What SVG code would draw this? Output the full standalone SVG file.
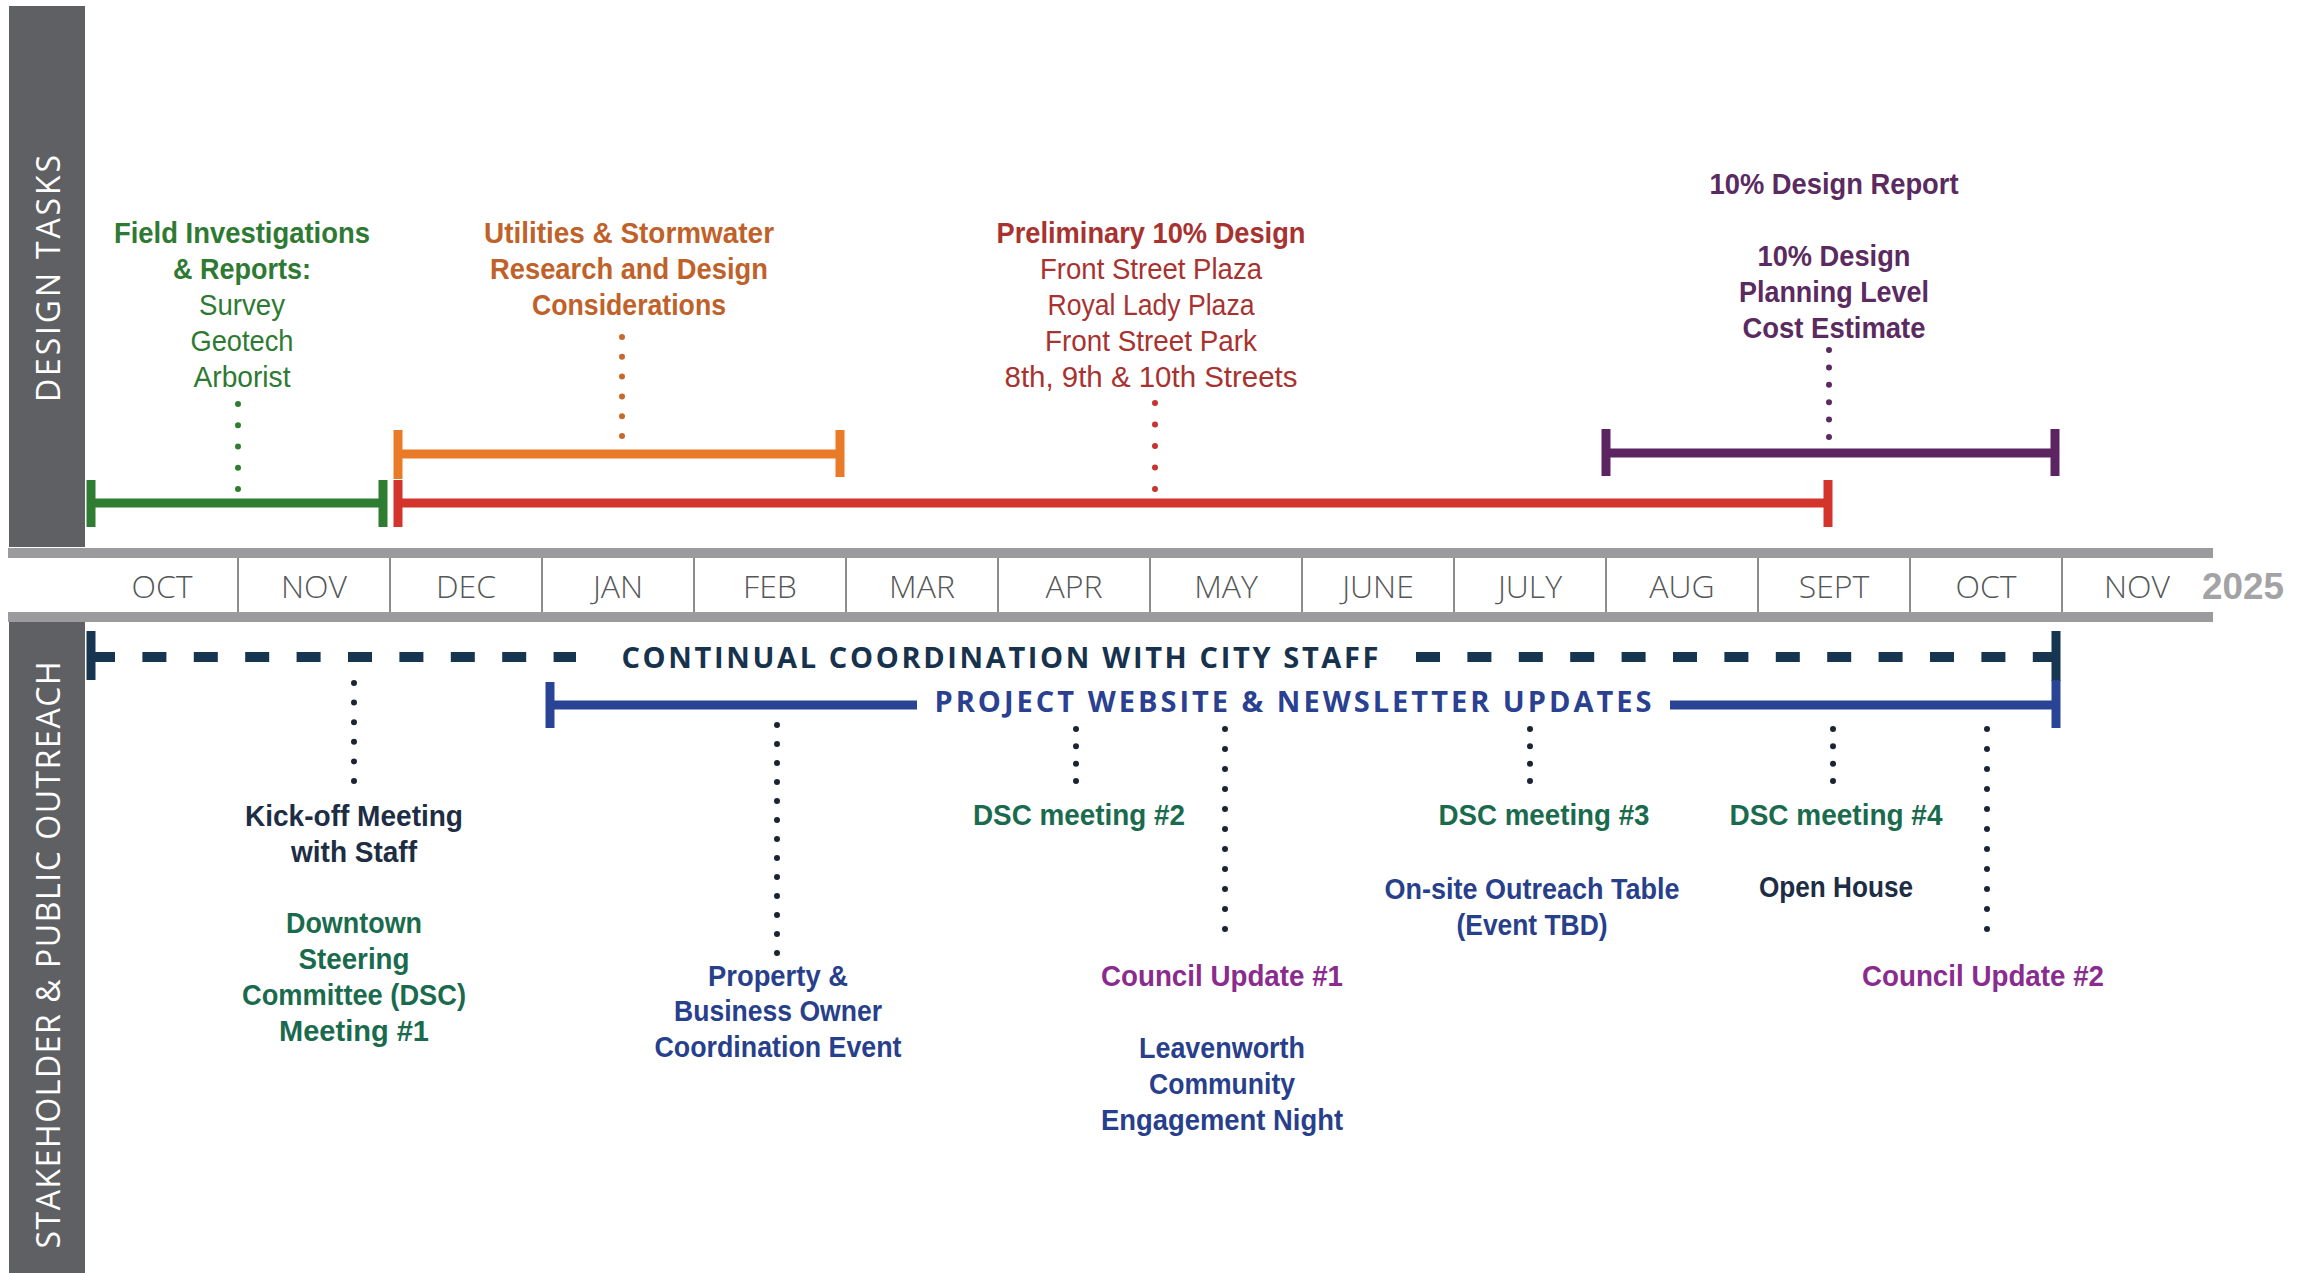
<svg xmlns="http://www.w3.org/2000/svg" width="2315" height="1273" viewBox="0 0 2315 1273">
<style>
.bg{fill:#ffffff}
.side{fill:#5f6063}
.axis{fill:#9b9b9d}
.div{stroke:#8c8c8c;stroke-width:2}
.mon{font-family:"Open Sans","Liberation Sans",sans-serif;font-weight:300;font-size:32px;fill:#555759;text-anchor:middle}
.yr{font-family:"Liberation Sans",Arial,sans-serif;font-weight:700;font-size:36px;fill:#a3a3a5;text-anchor:middle}
.sec{font-family:"Open Sans","Liberation Sans",sans-serif;font-weight:400;font-size:32px;fill:#ffffff;text-anchor:middle}
.b{font-family:"Liberation Sans Narrow","Liberation Sans",Arial,sans-serif;font-weight:700;font-size:29px;text-anchor:middle}
.r{font-family:"Liberation Sans Narrow","Liberation Sans",Arial,sans-serif;font-weight:400;font-size:29px;text-anchor:middle}
.wide{font-family:"Open Sans","Liberation Sans",sans-serif;font-weight:700;font-size:29px;text-anchor:middle}
.bar{stroke-width:9;fill:none}
.dot{stroke-width:6;stroke-linecap:round;fill:none}
.green{fill:#2e7a33}.greenS{stroke:#2e7d32}
.orange{fill:#bf6129}.orangeS{stroke:#e97b28}
.red{fill:#a8322f}.redS{stroke:#d3352c}
.purple{fill:#5a2a60}.purpleS{stroke:#5d2462}
.teal{fill:#1a6b4e}
.navy{fill:#1c2d44}
.blue{fill:#283f8c}
.mag{fill:#8a2c8e}
.dk{stroke:#1b2433}
</style>
<rect class="bg" x="0" y="0" width="2315" height="1273"/>

<g id="sidebars">
<rect class="side" x="9" y="6" width="76" height="541"/>
<rect class="side" x="9" y="622" width="76" height="651"/>
<text class="sec" transform="translate(60,278.5) rotate(-90)" x="0" y="0" textLength="247" lengthAdjust="spacing">DESIGN TASKS</text>
<text class="sec" transform="translate(60,955) rotate(-90)" x="0" y="0" textLength="587" lengthAdjust="spacing">STAKEHOLDER &amp; PUBLIC OUTREACH</text>
</g>

<g id="timeline-axis">
<rect class="axis" x="8" y="548" width="2205" height="10"/>
<rect class="axis" x="8" y="612" width="2205" height="10"/>
<line class="div" x1="238" y1="558" x2="238" y2="612"/>
<line class="div" x1="390" y1="558" x2="390" y2="612"/>
<line class="div" x1="542" y1="558" x2="542" y2="612"/>
<line class="div" x1="694" y1="558" x2="694" y2="612"/>
<line class="div" x1="846" y1="558" x2="846" y2="612"/>
<line class="div" x1="998" y1="558" x2="998" y2="612"/>
<line class="div" x1="1150" y1="558" x2="1150" y2="612"/>
<line class="div" x1="1302" y1="558" x2="1302" y2="612"/>
<line class="div" x1="1454" y1="558" x2="1454" y2="612"/>
<line class="div" x1="1606" y1="558" x2="1606" y2="612"/>
<line class="div" x1="1758" y1="558" x2="1758" y2="612"/>
<line class="div" x1="1910" y1="558" x2="1910" y2="612"/>
<line class="div" x1="2062" y1="558" x2="2062" y2="612"/>
<text class="mon" x="162" y="598">OCT</text>
<text class="mon" x="314" y="598">NOV</text>
<text class="mon" x="466" y="598">DEC</text>
<text class="mon" x="618" y="598">JAN</text>
<text class="mon" x="770" y="598">FEB</text>
<text class="mon" x="922" y="598">MAR</text>
<text class="mon" x="1074" y="598">APR</text>
<text class="mon" x="1226" y="598">MAY</text>
<text class="mon" x="1378" y="598">JUNE</text>
<text class="mon" x="1530" y="598">JULY</text>
<text class="mon" x="1682" y="598">AUG</text>
<text class="mon" x="1834" y="598">SEPT</text>
<text class="mon" x="1986" y="598">OCT</text>
<text class="mon" x="2137" y="598">NOV</text>
<text class="yr" x="2243" y="599" textLength="82" lengthAdjust="spacingAndGlyphs">2025</text>
</g>

<g id="connectors">
<line class="bar greenS" x1="91" y1="503" x2="383" y2="503"/>
<line class="bar greenS" x1="91" y1="480" x2="91" y2="527"/>
<line class="bar greenS" x1="383" y1="480" x2="383" y2="527"/>
<line class="bar redS" x1="398" y1="503" x2="1828" y2="503"/>
<line class="bar redS" x1="398" y1="480" x2="398" y2="527"/>
<line class="bar redS" x1="1828" y1="480" x2="1828" y2="527"/>
<line class="bar orangeS" x1="398" y1="454" x2="840" y2="454"/>
<line class="bar orangeS" x1="398" y1="430" x2="398" y2="479"/>
<line class="bar orangeS" x1="840" y1="430" x2="840" y2="477"/>
<line class="bar purpleS" x1="1606" y1="453" x2="2055" y2="453"/>
<line class="bar purpleS" x1="1606" y1="429" x2="1606" y2="476"/>
<line class="bar purpleS" x1="2055" y1="429" x2="2055" y2="476"/>
<line class="dot" stroke="#2e7d32" x1="238" y1="404" x2="238" y2="489.1" stroke-dasharray="0 21.25"/>
<line class="dot" stroke="#c8692c" x1="622" y1="337" x2="622" y2="436.1" stroke-dasharray="0 19.8"/>
<line class="dot" stroke="#c7332e" x1="1155" y1="403" x2="1155" y2="489.1" stroke-dasharray="0 21.5"/>
<line class="dot" stroke="#5a2a60" x1="1829" y1="350" x2="1829" y2="437.1" stroke-dasharray="0 17.4"/>
<line stroke="#163551" stroke-width="9" x1="91" y1="631" x2="91" y2="680"/>
<line stroke="#163551" stroke-width="10" x1="91" y1="657" x2="576" y2="657" stroke-dasharray="24 27.4"/>
<line stroke="#163551" stroke-width="10" x1="1416" y1="657" x2="2056" y2="657" stroke-dasharray="24 27.4"/>
<line stroke="#163551" stroke-width="9" x1="2056" y1="631" x2="2056" y2="681"/>
<line stroke="#2a4495" stroke-width="9" x1="550" y1="682" x2="550" y2="728"/>
<line stroke="#2a4495" stroke-width="9" x1="550" y1="705" x2="917" y2="705"/>
<line stroke="#2a4495" stroke-width="9" x1="1670" y1="705" x2="2056" y2="705"/>
<line stroke="#2a4495" stroke-width="9" x1="2056" y1="680" x2="2056" y2="728"/>
<line class="dot dk" x1="354" y1="683" x2="354" y2="781.1" stroke-dasharray="0 19.6"/>
<line class="dot dk" x1="777" y1="725" x2="777" y2="953.1" stroke-dasharray="0 19"/>
<line class="dot dk" x1="1076" y1="729" x2="1076" y2="781.1" stroke-dasharray="0 17.33"/>
<line class="dot dk" x1="1225" y1="729" x2="1225" y2="929.1" stroke-dasharray="0 20"/>
<line class="dot dk" x1="1530" y1="729" x2="1530" y2="781.1" stroke-dasharray="0 17.33"/>
<line class="dot dk" x1="1833" y1="729" x2="1833" y2="781.1" stroke-dasharray="0 17.33"/>
<line class="dot dk" x1="1987" y1="729" x2="1987" y2="929.1" stroke-dasharray="0 20"/>
</g>

<g id="continual-coordination">
<text class="wide" x="1000" y="668" fill="#17324d" textLength="757" lengthAdjust="spacing">CONTINUAL COORDINATION WITH CITY STAFF</text>
</g>
<g id="website-updates">
<text class="wide" x="1293" y="712" fill="#2a4090" textLength="717" lengthAdjust="spacing">PROJECT WEBSITE &amp; NEWSLETTER UPDATES</text>
</g>

<g id="field-investigations">
<text class="b green" x="242" y="243" textLength="256" lengthAdjust="spacingAndGlyphs">Field Investigations</text>
<text class="b green" x="242" y="279" textLength="138" lengthAdjust="spacingAndGlyphs">&amp; Reports:</text>
<text class="r green" x="242" y="315" textLength="86" lengthAdjust="spacingAndGlyphs">Survey</text>
<text class="r green" x="242" y="351" textLength="103" lengthAdjust="spacingAndGlyphs">Geotech</text>
<text class="r green" x="242" y="387" textLength="97" lengthAdjust="spacingAndGlyphs">Arborist</text>
</g>

<g id="utilities-stormwater">
<text class="b orange" x="629" y="243" textLength="290" lengthAdjust="spacingAndGlyphs">Utilities &amp; Stormwater</text>
<text class="b orange" x="629" y="279" textLength="278" lengthAdjust="spacingAndGlyphs">Research and Design</text>
<text class="b orange" x="629" y="315" textLength="194" lengthAdjust="spacingAndGlyphs">Considerations</text>
</g>

<g id="preliminary-design">
<text class="b red" x="1151" y="243" textLength="309" lengthAdjust="spacingAndGlyphs">Preliminary 10% Design</text>
<text class="r red" x="1151" y="279" textLength="222" lengthAdjust="spacingAndGlyphs">Front Street Plaza</text>
<text class="r red" x="1151" y="315" textLength="207" lengthAdjust="spacingAndGlyphs">Royal Lady Plaza</text>
<text class="r red" x="1151" y="351" textLength="212" lengthAdjust="spacingAndGlyphs">Front Street Park</text>
<text class="r red" x="1151" y="387" textLength="293" lengthAdjust="spacingAndGlyphs">8th, 9th &amp; 10th Streets</text>
</g>

<g id="design-report">
<text class="b purple" x="1834" y="194" textLength="249" lengthAdjust="spacingAndGlyphs">10% Design Report</text>
<text class="b purple" x="1834" y="266" textLength="153" lengthAdjust="spacingAndGlyphs">10% Design</text>
<text class="b purple" x="1834" y="302" textLength="190" lengthAdjust="spacingAndGlyphs">Planning Level</text>
<text class="b purple" x="1834" y="338" textLength="183" lengthAdjust="spacingAndGlyphs">Cost Estimate</text>
</g>

<g id="kickoff">
<text class="b navy" x="354" y="826" textLength="218" lengthAdjust="spacingAndGlyphs">Kick-off Meeting</text>
<text class="b navy" x="354" y="862" textLength="126" lengthAdjust="spacingAndGlyphs">with Staff</text>
<text class="b teal" x="354" y="933" textLength="136" lengthAdjust="spacingAndGlyphs">Downtown</text>
<text class="b teal" x="354" y="969" textLength="111" lengthAdjust="spacingAndGlyphs">Steering</text>
<text class="b teal" x="354" y="1005" textLength="224" lengthAdjust="spacingAndGlyphs">Committee (DSC)</text>
<text class="b teal" x="354" y="1041" textLength="150" lengthAdjust="spacingAndGlyphs">Meeting #1</text>
</g>

<g id="property-owner-event">
<text class="b blue" x="778" y="986" textLength="140" lengthAdjust="spacingAndGlyphs">Property &amp;</text>
<text class="b blue" x="778" y="1021" textLength="208" lengthAdjust="spacingAndGlyphs">Business Owner</text>
<text class="b blue" x="778" y="1057" textLength="247" lengthAdjust="spacingAndGlyphs">Coordination Event</text>
</g>

<g id="dsc-2">
<text class="b teal" x="1079" y="825" textLength="212" lengthAdjust="spacingAndGlyphs">DSC meeting #2</text>
</g>

<g id="council-1">
<text class="b mag" x="1222" y="986" textLength="242" lengthAdjust="spacingAndGlyphs">Council Update #1</text>
<text class="b blue" x="1222" y="1058" textLength="166" lengthAdjust="spacingAndGlyphs">Leavenworth</text>
<text class="b blue" x="1222" y="1094" textLength="146" lengthAdjust="spacingAndGlyphs">Community</text>
<text class="b blue" x="1222" y="1130" textLength="242" lengthAdjust="spacingAndGlyphs">Engagement Night</text>
</g>

<g id="dsc-3">
<text class="b teal" x="1544" y="825" textLength="211" lengthAdjust="spacingAndGlyphs">DSC meeting #3</text>
<text class="b blue" x="1532" y="899" textLength="295" lengthAdjust="spacingAndGlyphs">On-site Outreach Table</text>
<text class="b blue" x="1532" y="935" textLength="151" lengthAdjust="spacingAndGlyphs">(Event TBD)</text>
</g>

<g id="dsc-4">
<text class="b teal" x="1836" y="825" textLength="213" lengthAdjust="spacingAndGlyphs">DSC meeting #4</text>
<text class="b navy" x="1836" y="897" textLength="154" lengthAdjust="spacingAndGlyphs">Open House</text>
</g>

<g id="council-2">
<text class="b mag" x="1983" y="986" textLength="242" lengthAdjust="spacingAndGlyphs">Council Update #2</text>
</g>
</svg>
